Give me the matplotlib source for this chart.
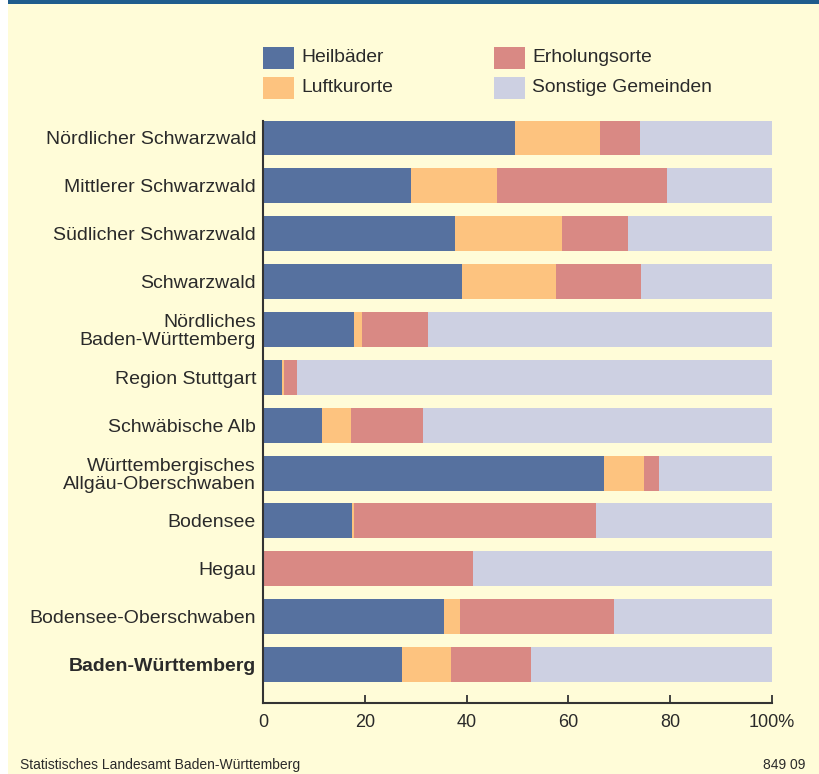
import numpy as np
import matplotlib.pyplot as plt
from matplotlib.patches import Rectangle

plt.rcParams['font.family'] = ['Liberation Sans', 'DejaVu Sans']

regionen = ["Nördlicher Schwarzwald", "Mittlerer Schwarzwald", "Südlicher Schwarzwald",
            "Schwarzwald", "Nördliches\nBaden-Württemberg", "Region Stuttgart",
            "Schwäbische Alb", "Württembergisches\nAllgäu-Oberschwaben", "Bodensee",
            "Hegau", "Bodensee-Oberschwaben", "Baden-Württemberg"]

# Anteile in %
heilbaeder = [49.5, 29.1, 37.7, 39.1, 17.9, 3.7, 11.6, 67.0, 17.5, 0.0, 35.6, 27.3]
luftkurorte = [16.7, 16.9, 21.0, 18.5, 1.5, 0.4, 5.7, 7.9, 0.4, 0.0, 3.1, 9.6]
erholungsorte = [7.9, 33.4, 13.0, 16.7, 13.0, 2.6, 14.1, 2.9, 47.5, 41.3, 30.3, 15.8]
sonstige = [100 - a - b - c for a, b, c in zip(heilbaeder, luftkurorte, erholungsorte)]

serien = ["Heilbäder", "Luftkurorte", "Erholungsorte", "Sonstige Gemeinden"]
farben = ["#56719f", "#fdc37f", "#d98984", "#cdd0e2"]
bg = "#fffcd8"
txt = "#2a2a2a"

W, H = 820, 774
fig = plt.figure(figsize=(W / 100, H / 100), dpi=100)
fig.patch.set_facecolor(bg)
# weisser Rand links und blaue Linie oben
fig.patches.append(Rectangle((0, 0), 8 / W, 1, transform=fig.transFigure,
                             facecolor="white", edgecolor="none"))
fig.patches.append(Rectangle((8 / W, 1 - 3.5 / H), 1, 3.5 / H, transform=fig.transFigure,
                             facecolor="#1f5c8c", edgecolor="none"))

ax = fig.add_axes([263 / W, 71 / H, 509 / W, 582 / H])
ax.set_facecolor(bg)

y = np.arange(len(regionen))
links = np.zeros(len(regionen))
for werte, farbe, name in zip([heilbaeder, luftkurorte, erholungsorte, sonstige], farben, serien):
    ax.barh(y, werte, left=links, height=0.73, color=farbe, label=name, linewidth=0)
    links += np.array(werte)

ax.set_xlim(0, 100)
ax.set_ylim(11.804, -0.355)
ax.set_yticks(y)
ax.set_yticklabels(regionen, fontsize=14, color=txt, linespacing=1.05)
ax.get_yticklabels()[-1].set_fontweight("bold")
ax.tick_params(axis="y", length=0, pad=5)
ax.set_xticks([0, 20, 40, 60, 80, 100])
ax.set_xticklabels(["0", "20", "40", "60", "80", "100%"], fontsize=13, color=txt)
ax.tick_params(axis="x", direction="in", length=6, width=1.3, color="#333333", pad=8)
for s in ["top", "right"]:
    ax.spines[s].set_visible(False)
for s in ["left", "bottom"]:
    ax.spines[s].set_color("#333333")
    ax.spines[s].set_linewidth(1.5)

# Legende: 2 Spalten, 2 Zeilen
leg_x = [263, 263, 494, 494]
leg_y = [47, 77, 47, 77]
for name, farbe, lx, ly in zip(serien, farben, leg_x, leg_y):
    fig.patches.append(Rectangle((lx / W, 1 - (ly + 22) / H), 31 / W, 22 / H,
                                 transform=fig.transFigure, facecolor=farbe, edgecolor="none"))
    fig.text((lx + 38) / W, 1 - (ly + 11) / H, name, fontsize=13.9, color=txt,
             va="center", ha="left")

fig.text(20 / W, 1 - 765 / H, "Statistisches Landesamt Baden-Württemberg",
         fontsize=10, color=txt, va="center", ha="left")
fig.text(805 / W, 1 - 765 / H, "849 09", fontsize=10, color=txt, va="center", ha="right")

fig.savefig("out.png", dpi=100, facecolor=bg)
